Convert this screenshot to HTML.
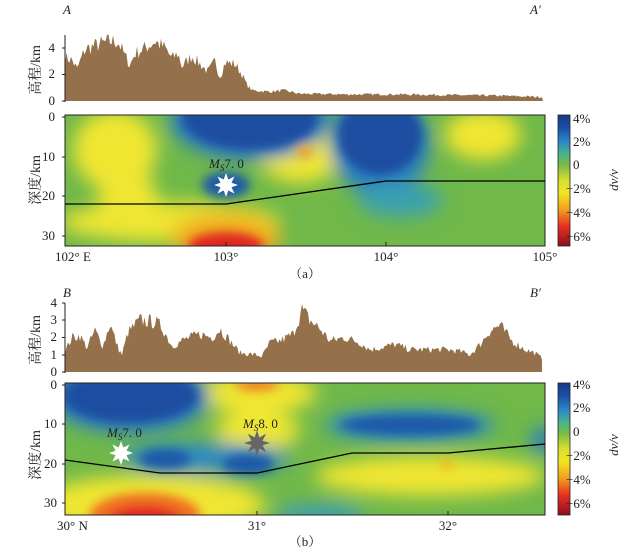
<!DOCTYPE html>
<html><head><meta charset="utf-8"><style>
body{margin:0;background:#fff}
svg{display:block}
text{font-family:"Liberation Serif","Noto Serif CJK SC",serif;fill:#222}
.t{font-size:13px}
</style></head><body>
<svg id="s" width="638" height="555" viewBox="0 0 638 555" xmlns="http://www.w3.org/2000/svg">
<defs>
<filter id="b1" x="-30%" y="-30%" width="160%" height="160%"><feGaussianBlur stdDeviation="9"/></filter>
<filter id="b2" x="-30%" y="-30%" width="160%" height="160%"><feGaussianBlur stdDeviation="5"/></filter>
<clipPath id="ca"><rect x="65" y="115" width="480" height="131"/></clipPath>
<clipPath id="cb"><rect x="65" y="383" width="480" height="132"/></clipPath>
<linearGradient id="cbar" x1="0" y1="0" x2="0" y2="1">
<stop offset="0" stop-color="#163a86"/><stop offset="0.1" stop-color="#1d4fa6"/>
<stop offset="0.2" stop-color="#2a86c8"/><stop offset="0.3" stop-color="#4bb48a"/>
<stop offset="0.38" stop-color="#7ab946"/><stop offset="0.5" stop-color="#d8e030"/>
<stop offset="0.6" stop-color="#f2e420"/><stop offset="0.72" stop-color="#f2a020"/>
<stop offset="0.85" stop-color="#e83020"/><stop offset="1" stop-color="#8a1020"/>
</linearGradient>
</defs>

<!-- Panel a topo -->
<text x="63" y="14" class="t" font-style="italic">A</text>
<text x="530" y="14" class="t" font-style="italic">A′</text>
<path id="ta" fill="#94714a"/>
<line x1="65" y1="35" x2="65" y2="102" stroke="#222" stroke-width="1"/>
<g stroke="#222"><line x1="65" y1="48" x2="62" y2="48"/><line x1="65" y1="74.5" x2="62" y2="74.5"/><line x1="65" y1="101" x2="62" y2="101"/></g>
<text x="55" y="52" class="t" text-anchor="end">4</text>
<text x="55" y="78" class="t" text-anchor="end">2</text>
<text x="55" y="105" class="t" text-anchor="end">0</text>
<text transform="translate(40,70) rotate(-90)" class="t" text-anchor="middle" style="font-size:14px">高程/km</text>

<!-- Panel a tomo -->
<g clip-path="url(#ca)">
<rect x="65" y="115" width="480" height="131" fill="#70b84a"/>
<g filter="url(#b1)">
<ellipse cx="115" cy="150" rx="42" ry="40" fill="#f0e630"/>
<ellipse cx="170" cy="222" rx="110" ry="20" fill="#eee632"/>
<ellipse cx="128" cy="200" rx="30" ry="30" fill="#eee632"/>
<ellipse cx="300" cy="155" rx="42" ry="28" fill="#f0e630"/>
<ellipse cx="483" cy="135" rx="38" ry="25" fill="#f0e630"/>
<ellipse cx="226" cy="238" rx="55" ry="25" fill="#f0b020"/>
<ellipse cx="250" cy="120" rx="80" ry="40" fill="#2a7cc0"/>
<ellipse cx="380" cy="145" rx="50" ry="50" fill="#2a80c0"/>
<ellipse cx="400" cy="200" rx="42" ry="17" fill="#3aa0b0"/>
</g>
<g filter="url(#b2)">
<ellipse cx="250" cy="118" rx="68" ry="32" fill="#1d4ea0"/>
<ellipse cx="380" cy="135" rx="42" ry="40" fill="#1d4ea0"/>
<ellipse cx="226" cy="185" rx="24" ry="13" fill="#1e5aa8"/>
<ellipse cx="305" cy="152" rx="8" ry="6" fill="#f0a020"/>
<ellipse cx="226" cy="246" rx="38" ry="14" fill="#e02820"/>
</g>
</g>
<rect x="65" y="115" width="480" height="131" fill="none" stroke="#222" stroke-width="1"/>
<polyline points="65,204 226,204 386,181 545,181" fill="none" stroke="#000" stroke-width="1.3"/>
<polygon id="sa" fill="#fff"/>
<text x="209" y="168" class="t" font-style="italic">M<tspan font-size="9" dy="3">S</tspan><tspan dy="-3" font-style="normal">7. 0</tspan></text>
<g stroke="#222"><line x1="65" y1="117" x2="62" y2="117"/><line x1="65" y1="157" x2="62" y2="157"/><line x1="65" y1="196" x2="62" y2="196"/><line x1="65" y1="236" x2="62" y2="236"/>
<line x1="226" y1="246" x2="226" y2="242"/><line x1="386" y1="246" x2="386" y2="242"/></g>
<text x="55" y="121" class="t" text-anchor="end">0</text>
<text x="55" y="161" class="t" text-anchor="end">10</text>
<text x="55" y="200" class="t" text-anchor="end">20</text>
<text x="55" y="240" class="t" text-anchor="end">30</text>
<text transform="translate(40,180) rotate(-90)" class="t" text-anchor="middle" style="font-size:14px">深度/km</text>
<text x="55" y="261" class="t">102° E</text>
<text x="226" y="261" class="t" text-anchor="middle">103°</text>
<text x="386" y="261" class="t" text-anchor="middle">104°</text>
<text x="545" y="261" class="t" text-anchor="middle">105°</text>
<text x="305" y="278" class="t" text-anchor="middle">（a）</text>
<rect x="558" y="115" width="12" height="131" fill="url(#cbar)" stroke="#222" stroke-width="0.8"/>
<g class="t"><text x="573" y="123">4%</text><text x="573" y="146">2%</text><text x="573" y="169">0</text><text x="566" y="193">−2%</text><text x="566" y="217">−4%</text><text x="566" y="241">−6%</text></g>
<text transform="translate(618,180) rotate(-90)" class="t" text-anchor="middle" font-style="italic">dv/v</text>

<!-- Panel b topo -->
<text x="63" y="297" class="t" font-style="italic">B</text>
<text x="530" y="297" class="t" font-style="italic">B′</text>
<path id="tb" fill="#94714a"/>
<line x1="65" y1="303" x2="65" y2="373" stroke="#222" stroke-width="1"/>
<g stroke="#222"><line x1="65" y1="303" x2="62" y2="303"/><line x1="65" y1="320" x2="62" y2="320"/><line x1="65" y1="337.5" x2="62" y2="337.5"/><line x1="65" y1="355" x2="62" y2="355"/><line x1="65" y1="372" x2="62" y2="372"/></g>
<text x="57" y="307" class="t" text-anchor="end">4</text>
<text x="57" y="324" class="t" text-anchor="end">3</text>
<text x="57" y="341" class="t" text-anchor="end">2</text>
<text x="57" y="359" class="t" text-anchor="end">1</text>
<text x="57" y="376" class="t" text-anchor="end">0</text>
<text transform="translate(40,340) rotate(-90)" class="t" text-anchor="middle" style="font-size:14px">高程/km</text>

<!-- Panel b tomo -->
<g clip-path="url(#cb)">
<rect x="65" y="383" width="480" height="132" fill="#70b84a"/>
<g filter="url(#b1)">
<ellipse cx="257" cy="393" rx="60" ry="20" fill="#f0e630"/>
<ellipse cx="258" cy="430" rx="42" ry="20" fill="#eee632"/>
<ellipse cx="150" cy="505" rx="115" ry="30" fill="#f0e630"/>
<ellipse cx="430" cy="476" rx="115" ry="20" fill="#f0e630"/>
<ellipse cx="130" cy="398" rx="80" ry="35" fill="#2a7cc0"/>
<ellipse cx="205" cy="458" rx="85" ry="15" fill="#2a8ac0"/>
<ellipse cx="410" cy="425" rx="85" ry="16" fill="#2a8ac0"/>
<ellipse cx="320" cy="515" rx="45" ry="10" fill="#3a9ab8"/>
<ellipse cx="545" cy="440" rx="15" ry="12" fill="#2a7cc0"/>
</g>
<g filter="url(#b2)">
<ellipse cx="130" cy="396" rx="68" ry="27" fill="#1d4ea0"/>
<ellipse cx="165" cy="459" rx="26" ry="10" fill="#1e58a8"/>
<ellipse cx="248" cy="464" rx="26" ry="10" fill="#1e58a8"/>
<ellipse cx="410" cy="425" rx="70" ry="10" fill="#1e58a8"/>
<ellipse cx="257" cy="385" rx="22" ry="6" fill="#f08020"/>
<ellipse cx="145" cy="515" rx="55" ry="22" fill="#f07020"/>
<ellipse cx="145" cy="518" rx="35" ry="12" fill="#e02020"/>
<ellipse cx="447" cy="465" rx="8" ry="4" fill="#f0b020"/>
</g>
</g>
<rect x="65" y="383" width="480" height="132" fill="none" stroke="#222" stroke-width="1"/>
<polyline points="65,460 160,473 257,473 352,453 448,453 545,444" fill="none" stroke="#000" stroke-width="1.3"/>
<polygon id="sb1" fill="#fff"/>
<polygon id="sb2" fill="#666"/>
<text x="107" y="437" class="t" font-style="italic">M<tspan font-size="9" dy="3">S</tspan><tspan dy="-3" font-style="normal">7. 0</tspan></text>
<text x="243" y="428" class="t" font-style="italic">M<tspan font-size="9" dy="3">S</tspan><tspan dy="-3" font-style="normal">8. 0</tspan></text>
<g stroke="#222"><line x1="65" y1="385" x2="62" y2="385"/><line x1="65" y1="424" x2="62" y2="424"/><line x1="65" y1="464" x2="62" y2="464"/><line x1="65" y1="503" x2="62" y2="503"/>
<line x1="257" y1="515" x2="257" y2="511"/><line x1="448" y1="515" x2="448" y2="511"/></g>
<text x="57" y="389" class="t" text-anchor="end">0</text>
<text x="57" y="428" class="t" text-anchor="end">10</text>
<text x="57" y="468" class="t" text-anchor="end">20</text>
<text x="57" y="507" class="t" text-anchor="end">30</text>
<text transform="translate(40,455) rotate(-90)" class="t" text-anchor="middle" style="font-size:14px">深度/km</text>
<text x="57" y="530" class="t">30° N</text>
<text x="257" y="530" class="t" text-anchor="middle">31°</text>
<text x="448" y="530" class="t" text-anchor="middle">32°</text>
<text x="305" y="546" class="t" text-anchor="middle">（b）</text>
<rect x="558" y="383" width="12" height="132" fill="url(#cbar)" stroke="#222" stroke-width="0.8"/>
<g class="t"><text x="573" y="389">4%</text><text x="573" y="412">2%</text><text x="573" y="436">0</text><text x="566" y="460">−2%</text><text x="566" y="484">−4%</text><text x="566" y="508">−6%</text></g>
<text transform="translate(618,445) rotate(-90)" class="t" text-anchor="middle" font-style="italic">dv/v</text>
</svg>
<script>
var seed=7;function r(){seed=(seed*16807)%2147483647;return seed/2147483647;}
function prof(id,k,x0,x1,y0,sc,noise){
  var d="M"+x0+","+y0;
  for(var x=x0;x<=x1;x+=1.5){
    var i=0;while(i<k.length-2&&k[i+1][0]<x)i++;
    var a=k[i],b=k[i+1],t=(x-a[0])/(b[0]-a[0]);t=Math.max(0,Math.min(1,t));
    var h=a[1]+(b[1]-a[1])*t;
    h+= (r()-0.5)*noise*Math.max(0.2,h/3);
    if(h<0.05)h=0.05;
    d+=" L"+x.toFixed(1)+","+(y0-h*sc).toFixed(1);
  }
  d+=" L"+x1+","+y0+" Z";document.getElementById(id).setAttribute("d",d);
}
prof("ta",[[65,3.3],[72,3.1],[77,2.4],[85,3.9],[100,4.3],[110,4.5],[118,4.5],[125,3.4],[130,2.7],[135,3.6],[145,4.0],[155,4.5],[165,4.0],[172,3.2],[178,3.6],[182,2.6],[192,3.4],[200,2.8],[208,2.2],[215,3.0],[220,1.8],[225,2.9],[235,2.8],[242,2.0],[247,1.2],[252,0.8],[270,0.7],[283,0.8],[290,0.7],[300,0.55],[350,0.5],[400,0.5],[450,0.45],[500,0.4],[543,0.3]],65,543,101,13.25,0.9);
prof("tb",[[65,1.2],[72,2.0],[80,2.1],[87,1.4],[95,2.4],[103,1.5],[110,2.8],[118,1.4],[122,1.0],[128,2.3],[140,3.0],[155,2.9],[162,2.6],[172,1.5],[185,1.9],[200,2.2],[212,2.0],[220,2.5],[230,1.8],[240,1.1],[255,1.0],[262,0.9],[270,1.7],[280,1.8],[293,2.2],[302,3.6],[310,3.0],[320,2.5],[330,1.8],[345,2.0],[360,1.7],[370,1.3],[380,1.4],[395,1.6],[410,1.3],[430,1.3],[445,1.3],[460,1.2],[470,1.0],[480,1.6],[490,2.4],[500,2.7],[512,1.8],[525,1.3],[535,1.1],[542,0.8]],65,542,372,17.25,0.9);
function star(id,cx,cy,R,rr,n){var p=[];for(var i=0;i<2*n;i++){var a=Math.PI*i/n-Math.PI/2;var q=i%2?rr:R;p.push((cx+q*Math.cos(a)).toFixed(1)+","+(cy+q*Math.sin(a)).toFixed(1));}document.getElementById(id).setAttribute("points",p.join(" "));}
star("sa",226,185,12,6,8);star("sb1",121,453,12,6,8);star("sb2",257,443,13,6,8);
</script>
</body></html>
